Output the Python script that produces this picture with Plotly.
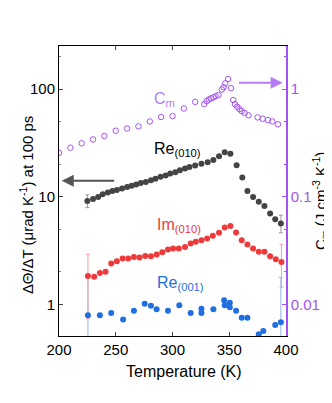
import plotly.graph_objects as go

# ---------------- data ----------------
cm_T = [200, 210, 220, 230, 240, 250, 260, 270, 280, 290, 300, 310, 320,
        328, 330, 332, 334, 336, 338, 340.5, 343.5, 345, 346.5, 349, 351.5,
        353.5, 355, 357, 359, 361, 363.5, 367, 375, 379.5, 384, 388, 393]
cm_vals = [0.255, 0.285, 0.313, 0.34, 0.366, 0.41, 0.43, 0.45, 0.50, 0.55, 0.56, 0.66, 0.76,
           0.725, 0.77, 0.80, 0.82, 0.837, 0.86, 0.88, 0.99, 1.04, 1.13, 1.24, 1.02,
           0.79, 0.725, 0.685, 0.65, 0.624, 0.60, 0.57, 0.545, 0.53, 0.515, 0.50, 0.47]

re010_T = [225, 230, 234.5, 238.5, 243, 247, 251, 255.5, 260, 264,
           268, 272, 276.5, 281, 285, 289.5, 294, 298, 302.5, 306.5,
           311, 315, 320, 325.5, 331, 336, 341, 346, 351, 356.5,
           361.5, 366, 371, 376, 381, 386, 390.5, 395.5]
re010_vals = [9.1, 9.5, 9.95, 10.5, 10.9, 11.3, 11.5, 11.9, 12.3, 12.6,
              13.0, 13.4, 13.7, 14.2, 14.7, 15.3, 15.7, 16.4, 16.9, 17.6,
              18.3, 18.9, 19.5, 20.2, 20.9, 21.9, 23.8, 25.8, 25.1, 19.6,
              15.1, 11.3, 9.95, 8.96, 8.17, 6.98, 6.17, 5.62]

im010_T = [225.5, 231, 236, 241, 246, 251, 256, 261, 266, 271,
           276, 281, 286, 291, 296, 300.5, 305.5, 311, 316, 320.5,
           325.5, 330.5, 335.5, 341, 346, 351, 356, 361, 366, 371,
           376, 381, 386, 391, 396]
im010_vals = [1.83, 1.80, 1.95, 2.0, 2.39, 2.51, 2.66, 2.66, 2.75, 2.72,
              2.81, 2.79, 2.90, 3.05, 3.23, 3.30, 3.30, 3.41, 3.67, 3.80,
              3.94, 4.08, 4.32, 4.61, 5.17, 5.35, 4.64, 3.94, 3.59, 3.30,
              3.07, 3.07, 2.80, 2.62, 2.47]

re001_T = [225.5, 236, 246, 256.5, 266, 275.5, 281, 286, 296, 306, 316, 325.5, 325.5,
           336, 345.5, 346, 350.5, 350.5, 356, 361, 366, 376, 380, 390.5, 395.5]
re001_vals = [0.79, 0.79, 0.83, 0.72, 0.87, 1.01, 0.97, 0.90, 0.87, 0.98, 0.83, 0.91, 0.83,
              0.90, 1.09, 0.98, 1.03, 0.94, 0.87, 0.75, 0.75, 0.526, 0.565, 0.64, 0.68]

# error bars (only first and last points carry them)
re010_err_T = [225, 395.5]
re010_err_vals = [9.1, 5.62]
re010_err_plus = [1.3, 1.1]
re010_err_minus = [1.2, 1.0]

im010_err_T = [225.5, 396]
im010_err_vals = [1.83, 2.47]
im010_err_plus = [1.09, 1.14]
im010_err_minus = [1.09, 1.03]

re001_err_T = [225.5, 395.5]
re001_err_vals = [0.79, 0.68]
re001_err_plus = [0.99, 1.1]
re001_err_minus = [0.78, 0.67]

x_ticks = [200, 250, 300, 350, 400]
left_ticks = [1, 10, 100]
left_tick_text = ["1", "10", "100"]
right_ticks = [0.01, 0.1, 1]
right_tick_text = ["0.01", "0.1", "1"]

# ---------------- styles ----------------
BLACK = "#444444"
RED = "#ee3a3a"
BLUE = "#1f6fe0"
PURPLE = "#a352f5"
FONT = "Liberation Sans, Arial, sans-serif"

fig = go.Figure()

def err_trace(T, v, p, m, col, axis="y"):
    return go.Scatter(x=T, y=v, mode="markers", yaxis=axis,
                      marker=dict(size=1, opacity=0),
                      error_y=dict(type="data", symmetric=False, array=p, arrayminus=m,
                                   color=col, thickness=1, width=2),
                      showlegend=False, hoverinfo="skip")

fig.add_trace(err_trace(re001_err_T, re001_err_vals, re001_err_plus, re001_err_minus, "#8fb4ef"))
fig.add_trace(err_trace(im010_err_T, im010_err_vals, im010_err_plus, im010_err_minus, "#f2a0a6"))
fig.add_trace(err_trace(re010_err_T, re010_err_vals, re010_err_plus, re010_err_minus, "#9a9a9a"))

fig.add_trace(go.Scatter(x=re010_T, y=re010_vals, mode="markers",
                         marker=dict(size=6, color=BLACK), showlegend=False))
fig.add_trace(go.Scatter(x=im010_T, y=im010_vals, mode="markers",
                         marker=dict(size=6, color=RED), showlegend=False))
fig.add_trace(go.Scatter(x=re001_T, y=re001_vals, mode="markers",
                         marker=dict(size=6, color=BLUE), showlegend=False))
fig.add_trace(go.Scatter(x=cm_T, y=cm_vals, mode="markers", yaxis="y2",
                         marker=dict(size=5.5, color=PURPLE, symbol="circle-open",
                                     line=dict(color=PURPLE, width=1)),
                         showlegend=False))

minor_left = [v * m for v in [0.1, 1, 10, 100] for m in [2, 5]]
minor_right = [v * m for v in [0.001, 0.01, 0.1, 1] for m in [2, 5]]

# page body adds an 8px margin, so the figure is shrunk/offset accordingly
fig.update_layout(
    width=324, height=387,
    margin=dict(l=51, r=46, t=38, b=59),
    paper_bgcolor="white", plot_bgcolor="white",
    font=dict(family=FONT, size=15, color="black"),
    xaxis=dict(range=[200, 400], tickvals=x_ticks, ticks="inside", ticklen=4,
               showline=True, linecolor="black", linewidth=1, mirror="ticks",
               showgrid=False, zeroline=False,
               tickfont=dict(size=15, color="black")),
    yaxis=dict(type="log", range=[-0.295, 2.4], tickvals=left_ticks, ticktext=left_tick_text,
               ticks="inside", ticklen=4, showline=True, linecolor="black", linewidth=1,
               showgrid=False, zeroline=False, tickfont=dict(size=15, color="black"),
               minor=dict(tickvals=minor_left, ticks="inside", ticklen=2, tickcolor="#888")),
    yaxis2=dict(type="log", range=[-2.295, 0.4], overlaying="y", side="right",
                tickvals=right_ticks, ticktext=right_tick_text,
                ticks="inside", ticklen=4, tickcolor=PURPLE,
                showline=True, linecolor=PURPLE, linewidth=1.5,
                showgrid=False, zeroline=False, tickfont=dict(size=15, color=PURPLE),
                minor=dict(tickvals=minor_right, ticks="inside", ticklen=2, tickcolor=PURPLE)),
)

PW, PH = 227, 290  # plot area size in px
annotations = [
    # axis titles
    dict(text="Temperature (K)", xref="paper", yref="paper",
         x=(184 - 59) / PW, y=(336 - 371) / PH, xanchor="center", yanchor="middle",
         showarrow=False, font=dict(size=16, color="black")),
    dict(text="ΔΘ/ΔT (μrad K<sup>-1</sup>) at 100 ps", xref="paper", yref="paper",
         x=(26 - 59) / PW, y=(336 - 205) / PH, xanchor="center", yanchor="middle",
         textangle=-90, showarrow=False, font=dict(size=15, color="black")),
    dict(text="C<sub>m</sub> (J cm<sup>-3</sup> K<sup>-1</sup>)", xref="paper", yref="paper",
         x=(320 - 59) / PW, y=(336 - 201) / PH, xanchor="center", yanchor="middle",
         textangle=-90, showarrow=False, font=dict(size=15, color="black")),
    # series labels
    dict(text="C<sub>m</sub>", x=282, y=1.90, xanchor="left", yanchor="middle",
         showarrow=False, font=dict(size=16, color="#b57cf5")),
    dict(text="Re<sub>(010)</sub>", x=281.5, y=1.44, xanchor="left", yanchor="middle",
         showarrow=False, font=dict(size=16, color="black")),
    dict(text="Im<sub>(010)</sub>", x=284.5, y=0.735, xanchor="left", yanchor="middle",
         showarrow=False, font=dict(size=16, color=RED)),
    dict(text="Re<sub>(001)</sub>", x=284.5, y=0.195, xanchor="left", yanchor="middle",
         showarrow=False, font=dict(size=16, color=BLUE)),
    # arrows
    dict(text="", x=202.4, y=1.147, ax=54, ay=0, showarrow=True,
         arrowhead=2, arrowsize=1.2, arrowwidth=2, arrowcolor="#555555"),
    dict(text="", x=397, y=2.059, ax=-45, ay=0, showarrow=True,
         arrowhead=2, arrowsize=1.2, arrowwidth=2, arrowcolor="#b57cf5"),
]
fig.update_layout(annotations=annotations)

fig.write_html("out.html")
